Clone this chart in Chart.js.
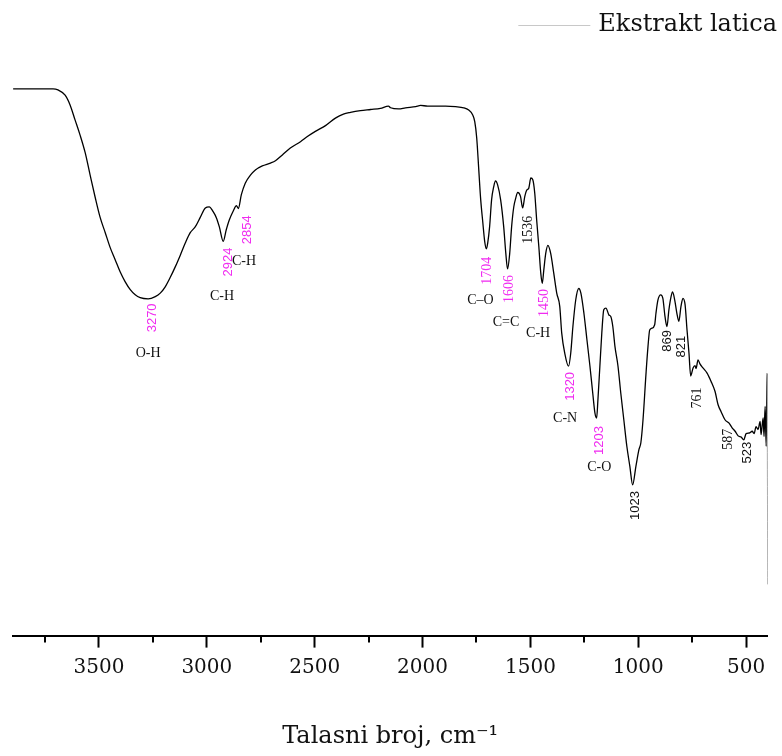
<!DOCTYPE html>
<html>
<head>
<meta charset="utf-8">
<script src="https://cdn.jsdelivr.net/npm/chart.js@4"></script>
<style>
html, body { margin: 0; padding: 0; background: #fff; }
#wrap { width: 782px; height: 756px; }
</style>
</head>
<body>
<div id="wrap"><canvas id="ftir" width="782" height="756"></canvas></div>
<script>
// spectrum (wavenumber, cm-1 / transmittance, %)
var wavenumbers = [
    3898, 3713, 3690, 3657, 3634, 3611, 3588, 3564, 3541, 3518,
    3495, 3471, 3448, 3425, 3402, 3379, 3355, 3332, 3309, 3272,
    3239, 3216, 3193, 3170, 3146, 3123, 3100, 3077, 3054, 3030,
    3007, 2989, 2970, 2956, 2942, 2924, 2910, 2896, 2877, 2863,
    2854, 2840, 2822, 2798, 2775, 2743, 2705, 2682, 2650, 2613,
    2566, 2534, 2497, 2450, 2404, 2367, 2334, 2288, 2241, 2195,
    2158, 2148, 2111, 2079, 2032, 2009, 1977, 1939, 1893, 1847,
    1809, 1786, 1768, 1758, 1749, 1740, 1731, 1721, 1712, 1704,
    1698, 1689, 1680, 1670, 1662, 1652, 1638, 1624, 1614, 1606,
    1596, 1587, 1577, 1568, 1559, 1546, 1536, 1526, 1517, 1508,
    1498, 1489, 1480, 1471, 1461, 1452, 1445, 1438, 1429, 1419,
    1406, 1392, 1378, 1364, 1355, 1341, 1323, 1313, 1303, 1290,
    1276, 1266, 1252, 1238, 1224, 1211, 1201, 1193, 1187, 1178,
    1169, 1160, 1150, 1136, 1127, 1118, 1108, 1094, 1081, 1067,
    1053, 1039, 1026, 1011, 997, 988, 978, 964, 955, 947,
    937, 924, 918, 909, 896, 886, 876, 867, 858, 848,
    841, 831, 821, 812, 802, 793, 783, 774, 765, 757,
    746, 737, 732, 723, 714, 700, 681, 663, 644, 630,
    616, 598, 579, 565, 551, 537, 523, 511, 500, 486,
    472, 463, 454, 445, 435, 431, 421, 417, 412, 407,
    403, 400
];
var transmittance = [
    95.0, 95.0, 94.8, 93.9, 92.2, 89.6, 87.0, 83.9, 80.0, 76.2,
    72.7, 70.0, 67.4, 65.3, 63.2, 61.5, 60.1, 59.2, 58.7, 58.5,
    58.9, 59.5, 60.6, 62.2, 64.1, 66.1, 68.2, 70.0, 71.0, 72.7,
    74.3, 74.5, 73.6, 72.6, 71.0, 68.5, 70.5, 72.2, 73.8, 74.7,
    74.2, 76.6, 78.6, 80.0, 80.9, 81.6, 82.1, 82.5, 83.5, 84.7,
    85.8, 86.7, 87.6, 88.6, 89.9, 90.6, 90.9, 91.2, 91.4, 91.6,
    92.0, 91.7, 91.5, 91.7, 91.9, 92.1, 92.0, 92.0, 92.0, 91.9,
    91.7, 91.3, 90.5, 89.3, 86.5, 81.3, 76.0, 71.9, 68.5, 67.2,
    68.2, 71.1, 75.7, 78.0, 79.0, 78.3, 75.7, 71.1, 66.4, 63.7,
    66.4, 71.1, 74.5, 76.0, 77.0, 76.3, 74.3, 76.3, 77.4, 77.7,
    79.5, 79.2, 76.9, 72.2, 67.6, 63.0, 61.2, 63.5, 66.4, 67.8,
    66.4, 63.0, 59.5, 57.2, 52.6, 49.1, 46.8, 49.1, 53.7, 58.3,
    60.3, 59.5, 56.0, 51.4, 46.8, 42.1, 38.7, 37.8, 41.0, 46.8,
    52.6, 56.6, 56.9, 55.7, 55.4, 53.7, 50.2, 46.8, 42.1, 37.5,
    32.9, 29.4, 26.2, 29.4, 32.3, 33.5, 37.5, 45.6, 50.2, 53.1,
    53.4, 54.0, 56.0, 58.3, 59.2, 58.6, 55.4, 53.7, 56.6, 58.9,
    59.7, 58.3, 56.0, 54.6, 57.2, 58.6, 57.5, 53.1, 49.1, 45.1,
    46.5, 46.9, 46.4, 47.9, 47.2, 46.5, 45.6, 44.2, 42.4, 40.1,
    38.9, 37.5, 36.9, 36.1, 35.5, 34.7, 34.5, 34.0, 35.1, 35.2,
    35.5, 35.1, 36.3, 35.8, 37.2, 34.9, 37.8, 34.6, 39.8, 32.9,
    45.6, 8.9
];

var majorTicks = [3500, 3000, 2500, 2000, 1500, 1000, 500];
var minorTicks = [3750, 3250, 2750, 2250, 1750, 1250, 750];

// peak numbers (rotated)
var tagText = ['3270', '2924', '2854', '1704', '1606', '1450', '1320', '1203',
               '1536', '1023', '869', '821', '761', '587', '523'];
var tagX = [3253, 2900, 2812, 1699, 1599, 1437, 1313, 1178,
            1511, 1011, 864, 802, 724, 581, 492];
var tagY = [55.2, 64.9, 70.5, 63.4, 60.2, 57.8, 43.3, 33.9,
            70.5, 22.6, 51.2, 50.2, 41.3, 34.1, 31.8];
var tagPink = [true, true, true, true, true, true, true, true,
               false, false, false, false, false, false, false];
var tagSerif = [false, false, false, true, true, true, false, false,
                true, false, false, false, true, true, false];

// bond names
var bondText = ['O-H', 'C-H', 'C-H', 'C\u2013O', 'C=C', 'C-H', 'C-N', 'C-O'];
var bondX = [3272, 2930, 2828, 1732, 1613, 1464, 1339, 1181];
var bondY = [49.1, 58.9, 65.1, 58.2, 54.4, 52.6, 37.8, 29.3];

var points = wavenumbers.map(function (w, i) {
    return { x: w, y: transmittance[i] };
});

var annotatePlugin = {
    id: 'annotate',
    afterDatasetsDraw: function (chart) {
        var ctx = chart.ctx;
        var xs = chart.scales.x;
        var ys = chart.scales.y;
        ctx.save();
        ctx.textAlign = 'center';
        ctx.textBaseline = 'middle';

        tagText.forEach(function (t, i) {
            var px = xs.getPixelForValue(tagX[i]);
            var py = ys.getPixelForValue(tagY[i]);
            ctx.save();
            ctx.translate(px, py);
            ctx.rotate(-Math.PI / 2);
            ctx.fillStyle = tagPink[i] ? '#f02cf0' : '#111';
            ctx.font = tagSerif[i] ? '14px "Liberation Serif", serif' : '13px "Liberation Sans", sans-serif';
            ctx.fillText(t, 0, 0);
            ctx.restore();
        });

        ctx.fillStyle = '#111';
        ctx.font = '14px "Liberation Serif", serif';
        bondText.forEach(function (t, i) {
            ctx.fillText(t, xs.getPixelForValue(bondX[i]), ys.getPixelForValue(bondY[i]));
        });

        // minor ticks under the axis
        ctx.strokeStyle = '#000';
        ctx.lineWidth = 2;
        minorTicks.forEach(function (v) {
            var px = Math.round(xs.getPixelForValue(v));
            ctx.beginPath();
            ctx.moveTo(px, chart.chartArea.bottom);
            ctx.lineTo(px, chart.chartArea.bottom + 7);
            ctx.stroke();
        });

        // legend
        var label = chart.data.datasets[0].label;
        ctx.font = '24px "DejaVu Serif", serif';
        ctx.textAlign = 'right';
        ctx.fillStyle = '#111';
        var right = chart.width - 5;
        var tw = ctx.measureText(label).width;
        ctx.fillText(label, right, 25);
        ctx.strokeStyle = '#c8c8c8';
        ctx.lineWidth = 1;
        ctx.beginPath();
        ctx.moveTo(right - tw - 8, 25.5);
        ctx.lineTo(right - tw - 80, 25.5);
        ctx.stroke();
        ctx.restore();
    }
};

var lastIndex = wavenumbers.length - 1;

new Chart(document.getElementById('ftir'), {
    type: 'line',
    data: {
        datasets: [{
            label: 'Ekstrakt latica',
            data: points,
            borderColor: '#000',
            borderWidth: 1.3,
            pointRadius: 0,
            fill: false,
            cubicInterpolationMode: 'monotone',
            segment: {
                borderColor: function (c) { return c.p1DataIndex === lastIndex ? '#8a8a8a' : undefined; },
                borderWidth: function (c) { return c.p1DataIndex === lastIndex ? 1 : undefined; }
            }
        }]
    },
    options: {
        responsive: false,
        animation: false,
        layout: { padding: { left: 12.7, right: 14.3, top: 60, bottom: 4.6 } },
        plugins: {
            legend: { display: false },
            tooltip: { enabled: false }
        },
        scales: {
            x: {
                type: 'linear',
                reverse: true,
                min: 400,
                max: 3900,
                afterBuildTicks: function (scale) {
                    scale.ticks = majorTicks.map(function (v) { return { value: v }; });
                },
                grid: {
                    drawOnChartArea: false,
                    drawTicks: true,
                    tickLength: 12,
                    tickWidth: 2,
                    tickColor: '#000'
                },
                border: { display: true, color: '#000', width: 2 },
                ticks: {
                    color: '#111',
                    padding: 8,
                    maxRotation: 0,
                    callback: function (v) { return String(v); },
                    font: { family: '"DejaVu Serif", serif', size: 20, lineHeight: 1.2 }
                },
                title: {
                    display: true,
                    text: 'Talasni broj, cm\u207B\u00B9',
                    color: '#111',
                    padding: { top: 35, bottom: 0 },
                    font: { family: '"DejaVu Serif", serif', size: 24, lineHeight: 1.2 }
                }
            },
            y: {
                display: false,
                min: 0,
                max: 100
            }
        }
    },
    plugins: [annotatePlugin]
});
</script>
</body>
</html>
